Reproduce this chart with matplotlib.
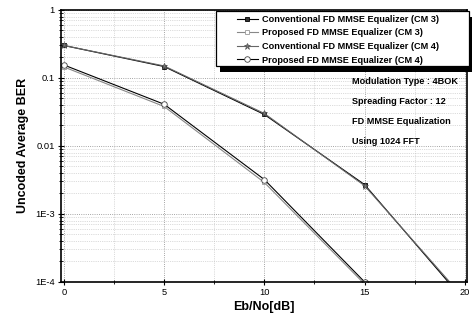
import matplotlib
matplotlib.use('Agg')
import matplotlib.pyplot as plt
from matplotlib.patches import Rectangle
from matplotlib.ticker import FixedLocator, LogLocator, NullFormatter

# Eb/No axis (dB)
ebno = [0, 5, 10, 15, 20]
ebno_prop = [0, 5, 10, 15]

# BER values
conv_cm3 = [0.30, 0.147, 0.029, 0.0027, 5.2e-5]
prop_cm3 = [0.145, 0.038, 0.0029, 9.3e-5]
conv_cm4 = [0.30, 0.150, 0.030, 0.0026, 5.6e-5]
prop_cm4 = [0.155, 0.041, 0.0032, 1.0e-4]

labels = ['Conventional FD MMSE Equalizer (CM 3)',
          'Proposed FD MMSE Equalizer (CM 3)',
          'Conventional FD MMSE Equalizer (CM 4)',
          'Proposed FD MMSE Equalizer (CM 4)']

info_lines = ['Modulation Type : 4BOK',
              'Spreading Factor : 12',
              'FD MMSE Equalization',
              'Using 1024 FFT']

y_ticks = [1e-4, 1e-3, 1e-2, 1e-1, 1]
y_ticklabels = ['1E-4', '1E-3', '0.01', '0.1', '1']
x_ticks = [0, 5, 10, 15, 20]

plt.rcParams['font.family'] = ['Liberation Sans', 'DejaVu Sans']

fig = plt.figure(figsize=(4.72, 3.2), dpi=100)
ax = fig.add_axes([0.129, 0.119, 0.860, 0.850])

ax.plot(ebno, conv_cm3, color='black', lw=0.8, marker='s', ms=3.5,
        mfc='#333333', mec='black', mew=0.6, label=labels[0])
ax.plot(ebno_prop, prop_cm3, color='#888888', lw=0.8, marker='s', ms=3.5,
        mfc='white', mec='#999999', mew=0.6, label=labels[1])
ax.plot(ebno, conv_cm4, color='#666666', lw=0.8, marker='*', ms=4.5,
        mfc='#777777', mec='#555555', mew=0.5, label=labels[2])
ax.plot(ebno_prop, prop_cm4, color='black', lw=0.8, marker='o', ms=4,
        mfc='white', mec='#444444', mew=0.6, label=labels[3])

ax.set_yscale('log')
ax.set_ylim(1e-4, 1)
ax.set_xlim(-0.15, 20.1)

ax.yaxis.set_major_locator(FixedLocator(y_ticks))
ax.set_yticklabels(y_ticklabels)
ax.yaxis.set_minor_locator(LogLocator(base=10, subs=range(2, 10), numticks=20))
ax.yaxis.set_minor_formatter(NullFormatter())
ax.set_xticks(x_ticks)
ax.set_xticks([2.5, 7.5, 12.5, 17.5], minor=True)

ax.tick_params(which='major', direction='inout', length=5, width=0.8,
               labelsize=6.7, pad=2)
ax.tick_params(which='minor', direction='inout', length=3, width=0.6)

ax.grid(True, which='major', color='#888888', ls=':', lw=0.6)
ax.grid(True, which='minor', color='#bbbbbb', ls=':', lw=0.5)

for s in ax.spines.values():
    s.set_linewidth(1.2)

ax.set_xlabel('Eb/No[dB]', fontsize=9, fontweight='bold', labelpad=3)
ax.set_ylabel('Uncoded Average BER', fontsize=9, fontweight='bold', labelpad=4)

# legend box: white frame with a heavy black drop shadow
box_x0, box_x1 = 0.382, 1.005
box_y0, box_y1 = 0.794, 0.996
sx, sy = 0.010, 0.022
ax.add_patch(Rectangle((box_x0 + sx, box_y0 - sy), box_x1 - box_x0, box_y1 - box_y0,
                       transform=ax.transAxes, facecolor='black', edgecolor='none',
                       clip_on=False, zorder=5))
ax.add_patch(Rectangle((box_x0, box_y0), box_x1 - box_x0, box_y1 - box_y0,
                       transform=ax.transAxes, facecolor='white', edgecolor='black',
                       lw=0.9, clip_on=False, zorder=5.1))

leg = ax.legend(loc='upper left', bbox_to_anchor=(0.4335, 0.982),
                prop={'weight': 'bold', 'size': 6.6}, frameon=False,
                borderpad=0.0, labelspacing=0.5, handlelength=2.3,
                handletextpad=0.45, borderaxespad=0.0)
leg.set_zorder(6)

y0 = 0.738
for i, line in enumerate(info_lines):
    ax.text(0.717, y0 - i * 0.074, line, transform=ax.transAxes,
            fontsize=6.6, fontweight='bold', va='center', ha='left')

fig.savefig('out.png', dpi=100)
